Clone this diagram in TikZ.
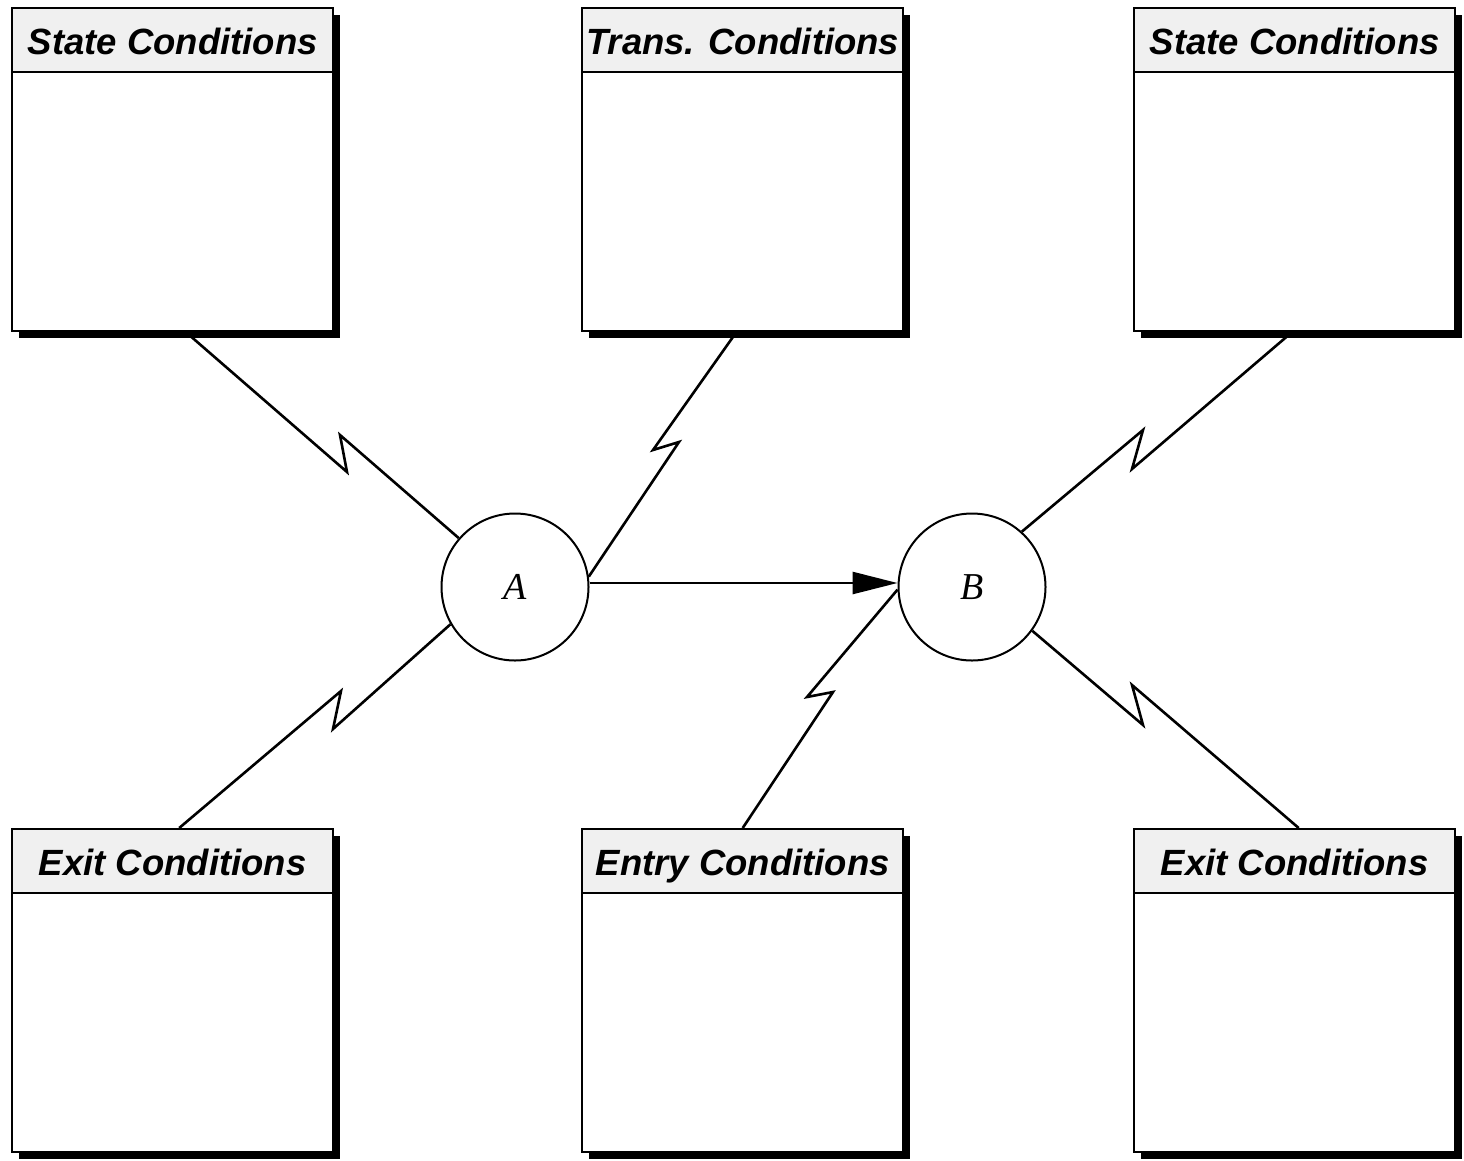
\documentclass[tikz,border=0pt]{standalone}
\usepackage{fontspec}
\setmainfont{Liberation Sans}
\newfontfamily\serifit{Liberation Serif}
\usetikzlibrary{arrows.meta}
\tikzset{
  condbody/.style={draw, fill=white, line width=2.4pt, minimum width=321pt, minimum height=323pt, inner sep=0pt, anchor=north west},
  condhead/.style={draw, fill=gray!12, line width=2.4pt, minimum width=321pt, minimum height=64pt, inner sep=0pt, anchor=north west,
     text height=30pt, text depth=2pt,
     font=\fontsize{36.5}{40}\selectfont\bfseries\itshape},
  condshadow/.style={fill=black},
  state/.style={circle, draw, line width=2pt, minimum size=147pt, inner sep=0pt, fill=white,
     font=\serifit\itshape\fontsize{38}{40}\selectfont},
  zig/.style={line width=2.6pt, miter limit=20},
  trans/.style={line width=2.6pt, -{Triangle[length=45pt,width=22pt]}}
}
\newcommand\condbox[4]{%
  \fill[condshadow] (#2+8,#3+8) rectangle ++(321,323);
  \node[condbody] (#1) at (#2,#3) {};
  \node[condhead] (#1h) at (#2,#3) {#4};
}
\begin{document}
\begin{tikzpicture}[x=1pt,y=-1pt]
\useasboundingbox[fill=white] (0,0) rectangle (1464,1160);

\condbox{tl}{11}{7}{State Conditions}
\condbox{tm}{581}{7}{Trans. Conditions}
\condbox{tr}{1133}{7}{State Conditions}
\condbox{bl}{11}{828}{Exit Conditions}
\condbox{bm}{581}{828}{Entry Conditions}
\condbox{br}{1133}{828}{Exit Conditions}

\node[state] (A) at (515,587) {\raisebox{-4pt}{A}};
\node[state] (B) at (972,587) {\raisebox{-3pt}{B}};

\coordinate (z1a) at (347,472); \coordinate (z1b) at (340,435);
\coordinate (z2a) at (653,450); \coordinate (z2b) at (679,442);
\coordinate (z3a) at (1132,469); \coordinate (z3b) at (1143,430);
\coordinate (z4a) at (341,691); \coordinate (z4b) at (333,729);
\coordinate (z5a) at (833,692); \coordinate (z5b) at (807,697);
\coordinate (z6a) at (1132,685); \coordinate (z6b) at (1143,725);

\draw[zig] ([xshift=13.5pt]tl.south) -- (z1a) -- (z1b) -- (A.139);
\draw[zig] ([xshift=-6.5pt]tm.south) -- (z2a) -- (z2b) -- (A.8);
\draw[zig] ([xshift=-3pt]tr.south) -- (z3a) -- (z3b) -- (B.48);
\draw[zig] ([xshift=6.5pt]bl.north) -- (z4a) -- (z4b) -- (A.210);
\draw[zig] (bm.north) -- (z5a) -- (z5b) -- (B.182);
\draw[zig] ([xshift=4pt]br.north) -- (z6a) -- (z6b) -- (B.324);

\draw[trans] ([yshift=4pt]A.east) -- ([yshift=4pt]B.west);
\end{tikzpicture}
\end{document}
